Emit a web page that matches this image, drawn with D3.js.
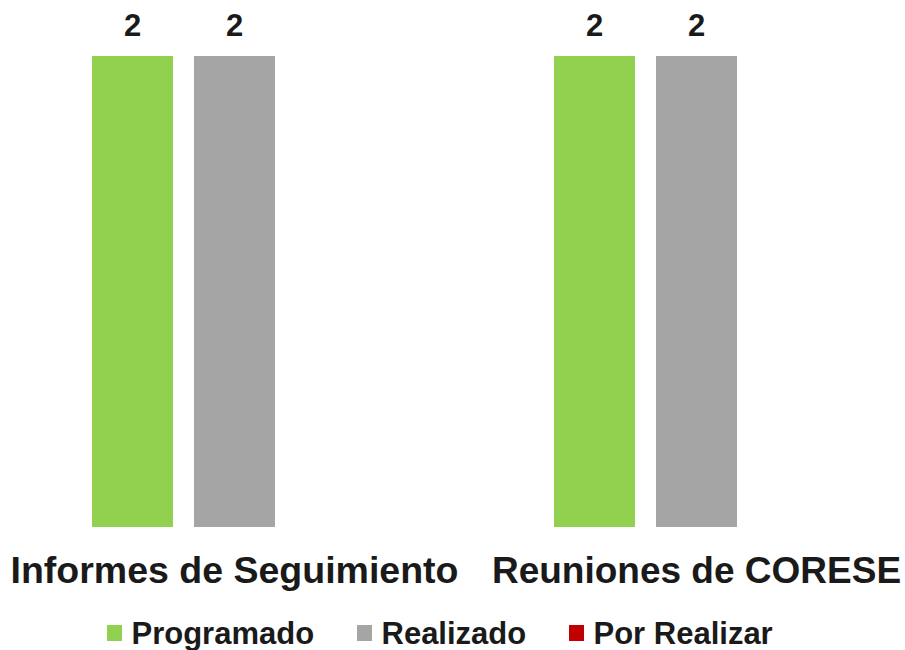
<!DOCTYPE html>
<html><head><meta charset="utf-8">
<script src="https://cdn.jsdelivr.net/npm/d3@7"></script>
<style>body{margin:0;background:#fff}svg{display:block}text{font-family:"Liberation Sans",Arial,sans-serif;font-weight:bold}</style>
</head><body><svg id="c" width="905" height="650"></svg>
<script>
const categories = ["Informes de Seguimiento", "Reuniones de CORESE"];
const series = ["Programado", "Realizado", "Por Realizar"];
const colors = ["#92D050", "#A5A5A5", "#C00000"];
const values = [
  [2, 2, 0],
  [2, 2, 0]
];

const svg = d3.select("#c");
const x0 = d3.scaleBand().domain(categories).range([3.5, 927.5]).padding(0);
const x1 = d3.scaleBand().domain(series).range([88.5, 373.5]).paddingInner(21/102).paddingOuter(0);
const y = d3.scaleLinear().domain([0, 2]).range([527, 56]);
const color = d3.scaleOrdinal().domain(series).range(colors);

const g = svg.selectAll("g.cat").data(categories).join("g")
  .attr("transform", d => `translate(${x0(d)},0)`);

g.selectAll("rect").data((d, i) => series.map((s, j) => ({s, v: values[i][j]}))).join("rect")
  .attr("x", d => x1(d.s)).attr("width", x1.bandwidth())
  .attr("y", d => y(d.v)).attr("height", d => y(0) - y(d.v))
  .attr("fill", d => color(d.s));

g.selectAll("text.val").data((d, i) => series.map((s, j) => ({s, v: values[i][j]}))).join("text")
  .attr("class", "val")
  .attr("x", d => x1(d.s) + x1.bandwidth() / 2)
  .attr("y", d => y(d.v) - 20)
  .attr("text-anchor", "middle")
  .attr("font-size", 31)
  .attr("fill", d => d.v === 0 ? "#ffffff" : "#1a1a1a")
  .text(d => d.v);

g.append("text")
  .attr("x", x1.range()[0] + (x1.range()[1] - x1.range()[0]) / 2)
  .attr("y", 583)
  .attr("text-anchor", "middle")
  .attr("font-size", d => d === categories[1] ? 37 : 37.5)
  .attr("fill", "#1a1a1a")
  .text(d => d);

const legendX = [107, 357, 569];
const lg = svg.selectAll("g.leg").data(series).join("g")
  .attr("transform", (d, i) => `translate(${legendX[i]},0)`);
lg.append("rect").attr("x", 0).attr("y", 625).attr("width", 15).attr("height", 16).attr("fill", d => color(d));
lg.append("text").attr("x", 24.5).attr("y", 643.5).attr("font-size", 31).attr("fill", "#1a1a1a").text(d => d);
</script></body></html>
